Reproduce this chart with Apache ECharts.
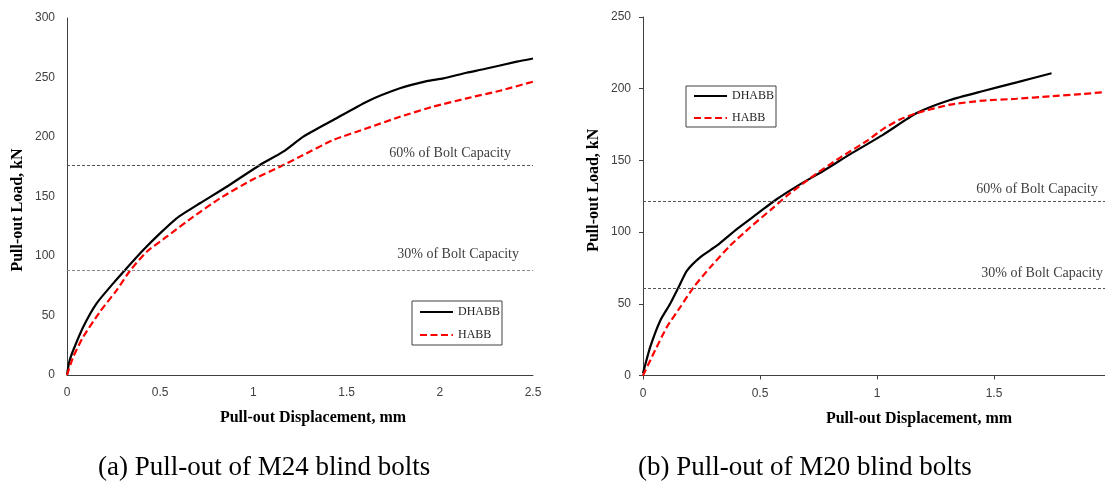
<!DOCTYPE html>
<html>
<head>
<meta charset="utf-8">
<script src="https://cdn.jsdelivr.net/npm/echarts@6/dist/echarts.min.js"></script>
<style>html,body{margin:0;padding:0;background:#fff;}#c{width:1105px;height:483px;}</style>
</head>
<body>
<div id="c"></div>
<script>
// (a) M24 blind bolts
const aDhabbX = [0, 0.012, 0.034, 0.0875, 0.159, 0.248, 0.320, 0.409, 0.499, 0.588, 0.713, 0.857, 1.035, 1.16, 1.268, 1.429, 1.608, 1.786, 1.93, 2.019, 2.144, 2.233, 2.413, 2.5];
const aDhabbY = [0, 11, 21, 40.6, 60.2, 77, 89.7, 105, 119, 131.7, 144.3, 158.2, 176.5, 187.7, 200.3, 214.3, 229.7, 240.9, 247, 249.3, 254, 256.9, 263.3, 266];
const aHabbX = [0, 0.034, 0.0875, 0.177, 0.267, 0.338, 0.428, 0.535, 0.678, 0.821, 0.999, 1.143, 1.25, 1.429, 1.608, 1.786, 1.965, 2.144, 2.323, 2.5];
const aHabbY = [0, 15.4, 32.2, 53.2, 71.4, 87.6, 103.6, 116.2, 133, 148.5, 164.5, 175, 183.5, 197.5, 207.3, 217, 225.5, 232.5, 238.9, 246.5];
const aCap60 = 176;
const aCap30 = 88;

// (b) M20 blind bolts
const bDhabbX = [0, 0.031, 0.074, 0.116, 0.152, 0.188, 0.244, 0.315, 0.401, 0.486, 0.571, 0.671, 0.770, 0.884, 1.027, 1.170, 1.312, 1.454, 1.597, 1.746];
const bDhabbY = [1.5, 19.9, 38.4, 50, 61.5, 73.1, 82.4, 90.5, 102.1, 112.5, 122.9, 133.3, 142.6, 154.2, 168, 183, 192.1, 198.4, 204.4, 210.8];
const bHabbX = [0, 0.045, 0.102, 0.159, 0.216, 0.287, 0.372, 0.457, 0.557, 0.614, 0.727, 0.841, 0.955, 1.027, 1.098, 1.170, 1.312, 1.454, 1.597, 1.739, 1.882, 1.967];
const bHabbY = [0, 15.3, 33.8, 47.6, 61.5, 75.4, 90.5, 103.2, 117.1, 125.2, 139.1, 151.8, 163.4, 172, 178.5, 183, 188.9, 191.7, 193, 194.7, 196.3, 197.6];
const bCap60 = 121.2;
const bCap30 = 60.6;

const seriesNames = ['DHABB', 'HABB'];
const capLabels = ['60% of Bolt Capacity', '30% of Bolt Capacity'];
const captions = ['(a) Pull-out of M24 blind bolts', '(b) Pull-out of M20 blind bolts'];
const xTitle = 'Pull-out Displacement, mm';
const yTitle = 'Pull-out Load, kN';

const zip = (xs, ys) => xs.map((x, i) => [x, ys[i]]);

const SERIF = 'Liberation Serif';
const SANS = 'Liberation Sans';
const AXC = '#404040';

function capLine(value, text, padRight, dist, color) {
  return {
    yAxis: value,
    lineStyle: { color: color, type: [3, 2], width: 1 },
    label: {
      show: true, formatter: text, position: 'insideEndTop', distance: dist,
      padding: [0, padRight, 0, 0],
      fontFamily: SERIF, fontSize: 14, color: '#404040'
    }
  };
}

function xAxisCfg(idx, max, showTick, padLeft) {
  return {
    type: 'value', gridIndex: idx, min: 0, max: max, interval: 0.5,
    axisLine: { lineStyle: { color: AXC, width: 1 } },
    axisTick: { show: showTick, length: 4, lineStyle: { color: AXC } },
    splitLine: { show: false },
    axisLabel: { fontFamily: SANS, fontSize: 12, color: AXC, margin: 12 },
    name: xTitle, nameLocation: 'middle', nameGap: 35,
    nameTextStyle: { fontFamily: SERIF, fontWeight: 'bold', fontSize: 16, color: '#000', padding: [0, 0, 0, padLeft] }
  };
}
function yAxisCfg(idx, max, showTick, pad) {
  return {
    type: 'value', gridIndex: idx, min: 0, max: max, interval: 50,
    axisLine: { show: true, lineStyle: { color: AXC, width: 1 } },
    axisTick: { show: showTick, length: 4, lineStyle: { color: AXC } },
    splitLine: { show: false },
    axisLabel: { fontFamily: SANS, fontSize: 12, color: AXC, margin: 12 },
    name: yTitle, nameLocation: 'middle', nameGap: 41,
    nameTextStyle: { fontFamily: SERIF, fontWeight: 'bold', fontSize: 16, color: '#000', padding: pad }
  };
}

const blackStyle = { color: '#000', width: 2.2, type: 'solid' };
const redStyle = { color: '#ff0000', width: 2.2, type: [7, 3.5] };

function legendCfg(left, top, padding, gap) {
  return {
    data: seriesNames, orient: 'vertical', left: left, top: top, padding: padding,
    itemWidth: 33, itemHeight: 14, itemGap: gap, selectedMode: false,
    borderColor: '#404040', borderWidth: 1, backgroundColor: '#fff',
    itemStyle: { color: 'rgba(0,0,0,0)', borderWidth: 0 },
    textStyle: { fontFamily: SERIF, fontSize: 12, color: '#222' }
  };
}

const chart = echarts.init(document.getElementById('c'), null, { renderer: 'canvas' });
chart.setOption({
  animation: false,
  backgroundColor: '#fff',
  grid: [
    { left: 67, width: 466, top: 18, bottom: 108, outerBoundsMode: 'none', containLabel: false },
    { left: 643, width: 468, top: 17, bottom: 107.5, outerBoundsMode: 'none', containLabel: false }
  ],
  xAxis: [xAxisCfg(0, 2.5, false, 26), xAxisCfg(1, 2, true, 84)],
  yAxis: [yAxisCfg(0, 300, false, [0, 27, 0, 0]), yAxisCfg(1, 250, true, [0, 0, 0, 12])],
  legend: [legendCfg(412, 301, [5, 2, 4, 7], 11), legendCfg(686, 86, [4, 2, 3, 7], 10)],
  graphic: [
    { type: 'text', left: 98, top: 454, style: { text: captions[0], fontFamily: SERIF, fontSize: 27, fill: '#000' } },
    { type: 'text', left: 638, top: 454, style: { text: captions[1], fontFamily: SERIF, fontSize: 27, fill: '#000' } }
  ],
  series: [
    {
      name: seriesNames[0], type: 'line', xAxisIndex: 0, yAxisIndex: 0, data: zip(aDhabbX, aDhabbY),
      symbol: 'none', smooth: 0.2, lineStyle: blackStyle, itemStyle: { color: '#000' },
      markLine: { silent: true, symbol: ['none', 'none'], data: [
        capLine(aCap60, capLabels[0], 17, 5, '#555'),
        capLine(aCap30, capLabels[1], 5, 9, '#888')
      ] }, z: 3
    },
    {
      name: seriesNames[1], type: 'line', xAxisIndex: 0, yAxisIndex: 0, data: zip(aHabbX, aHabbY),
      symbol: 'none', smooth: 0.2, lineStyle: redStyle, itemStyle: { color: '#ff0000' }, z: 4
    },
    {
      name: seriesNames[0], type: 'line', xAxisIndex: 1, yAxisIndex: 1, data: zip(bDhabbX, bDhabbY),
      symbol: 'none', smooth: 0.2, lineStyle: blackStyle, itemStyle: { color: '#000' },
      markLine: { silent: true, symbol: ['none', 'none'], data: [
        capLine(bCap60, capLabels[0], 8, 5, '#555'),
        capLine(bCap30, capLabels[1], 0, 8, '#555')
      ] }, z: 3
    },
    {
      name: seriesNames[1], type: 'line', xAxisIndex: 1, yAxisIndex: 1, data: zip(bHabbX, bHabbY),
      symbol: 'none', smooth: 0.2, lineStyle: redStyle, itemStyle: { color: '#ff0000' }, z: 4
    }
  ]
});
</script>
</body>
</html>
